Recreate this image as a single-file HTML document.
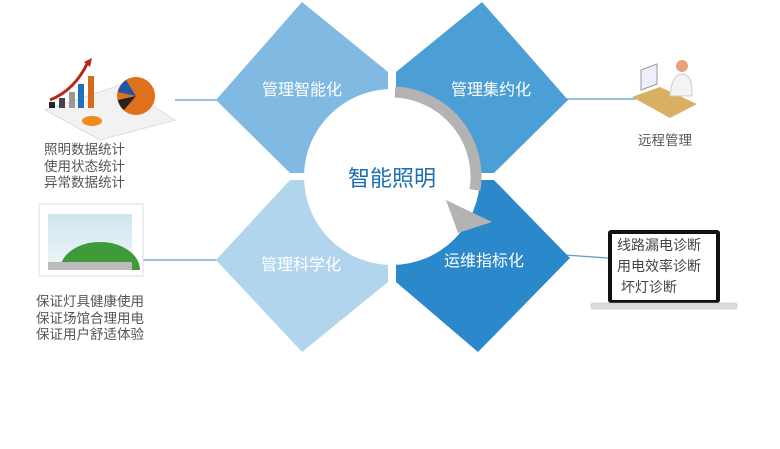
<!DOCTYPE html>
<html><head><meta charset="utf-8"><style>
body{margin:0;background:#fff;width:780px;height:449px;overflow:hidden;position:relative;font-family:"Liberation Sans","Noto Sans CJK SC",sans-serif}
.t{position:absolute;color:#555;font-size:13.5px;line-height:16.5px;white-space:nowrap}
</style></head><body>
<svg width="780" height="449" style="position:absolute;left:0;top:0">
<defs>
<linearGradient id="sky" x1="0" y1="0" x2="0" y2="1"><stop offset="0" stop-color="#cfe6f0"/><stop offset="1" stop-color="#eef6fa"/></linearGradient>
</defs>
<line x1="175" y1="100" x2="220" y2="100" stroke="#5b9cc8" stroke-width="1.2"/>
<line x1="143" y1="260" x2="220" y2="260" stroke="#5b9cc8" stroke-width="1.2"/>
<line x1="565" y1="99" x2="636" y2="99" stroke="#5b9cc8" stroke-width="1.2"/>
<line x1="565" y1="255" x2="608" y2="258" stroke="#5b9cc8" stroke-width="1.2"/>
<polygon points="216,100 302,2 388,72 388,173 290,173" fill="#80b9e1"/>
<polygon points="568,100 482,2 396,72 396,173 494,173" fill="#4c9fd5"/>
<polygon points="216,260 290,180 388,180 388,282 302,352" fill="#b1d5ec"/>
<polygon points="570,258 494,180 396,180 396,282 478,352" fill="#2a88cb"/>
<circle cx="392" cy="177" r="88" fill="#fff"/>
<path d="M395,92 A85,85 0 0 1 475,190" fill="none" stroke="#b3b3b3" stroke-width="11"/>
<polygon points="446,200 492,222 458,233" fill="#b3b3b3"/>
<text x="392" y="186" text-anchor="middle" font-size="22" fill="#1a6eb0" font-family="Liberation Sans,Noto Sans CJK SC,sans-serif">智能照明</text>
<g font-size="16" fill="#fff" text-anchor="middle" font-family="Liberation Sans,Noto Sans CJK SC,sans-serif">
<text x="302" y="95">管理智能化</text>
<text x="491" y="95">管理集约化</text>
<text x="301" y="270">管理科学化</text>
<text x="484" y="266">运维指标化</text>
</g>
<g>
<polygon points="45,110 120,85 175,120 100,140" fill="#f2f2f2" stroke="#ddd"/>
<rect x="49" y="102" width="6" height="6" fill="#222"/>
<rect x="59" y="98" width="6" height="10" fill="#444"/>
<rect x="69" y="92" width="6" height="16" fill="#999"/>
<rect x="78" y="84" width="6" height="24" fill="#1f6fc2"/>
<rect x="88" y="76" width="6" height="32" fill="#d56a1a"/>
<path d="M50,100 Q75,90 88,62" stroke="#b52a1a" stroke-width="3" fill="none"/>
<polygon points="84,62 92,58 90,67" fill="#b52a1a"/>
<ellipse cx="92" cy="121" rx="10" ry="5" fill="#f08a1a"/>
<circle cx="136" cy="96" r="19" fill="#e0701a"/>
<path d="M136,96 L118,92 A19,19 0 0 1 126,80 Z" fill="#1d57a8"/>
<path d="M136,96 L118,100 A19,19 0 0 0 124,110 Z" fill="#222"/>
</g>
<rect x="39" y="204" width="104" height="72" fill="#fff" stroke="#ddd"/>
<rect x="48" y="214" width="84" height="56" fill="url(#sky)"/>
<path d="M60,270 A40,28 0 0 1 140,270 Z" fill="#3f9a3a"/>
<rect x="48" y="262" width="84" height="8" fill="#bbb"/>
<polygon points="632,97 660,87 697,104 670,118" fill="#d9b063"/>
<polygon points="641,70 657,64 657,84 641,90" fill="#eef" stroke="#999"/>
<circle cx="682" cy="66" r="6" fill="#e8a27a"/>
<path d="M670,96 Q672,74 682,74 Q693,74 692,96 Z" fill="#f4f4f4" stroke="#ccc"/>
<rect x="608" y="230" width="112" height="73" rx="3" fill="#111"/>
<rect x="612" y="234" width="104" height="66" fill="#fff"/>
<rect x="591" y="303" width="146" height="6" rx="2" fill="#ddd" stroke="#bbb" stroke-width="0.5"/>
</svg>
<div class="t" style="left:44px;top:142px">照明数据统计<br>使用状态统计<br>异常数据统计</div>
<div class="t" style="left:36px;top:294px">保证灯具健康使用<br>保证场馆合理用电<br>保证用户舒适体验</div>
<div class="t" style="left:638px;top:133px">远程管理</div>
<div class="t" style="left:617px;top:235px;line-height:21px;font-size:14px;color:#444">线路漏电诊断<br>用电效率诊断<br>&nbsp;坏灯诊断</div>
</body></html>
